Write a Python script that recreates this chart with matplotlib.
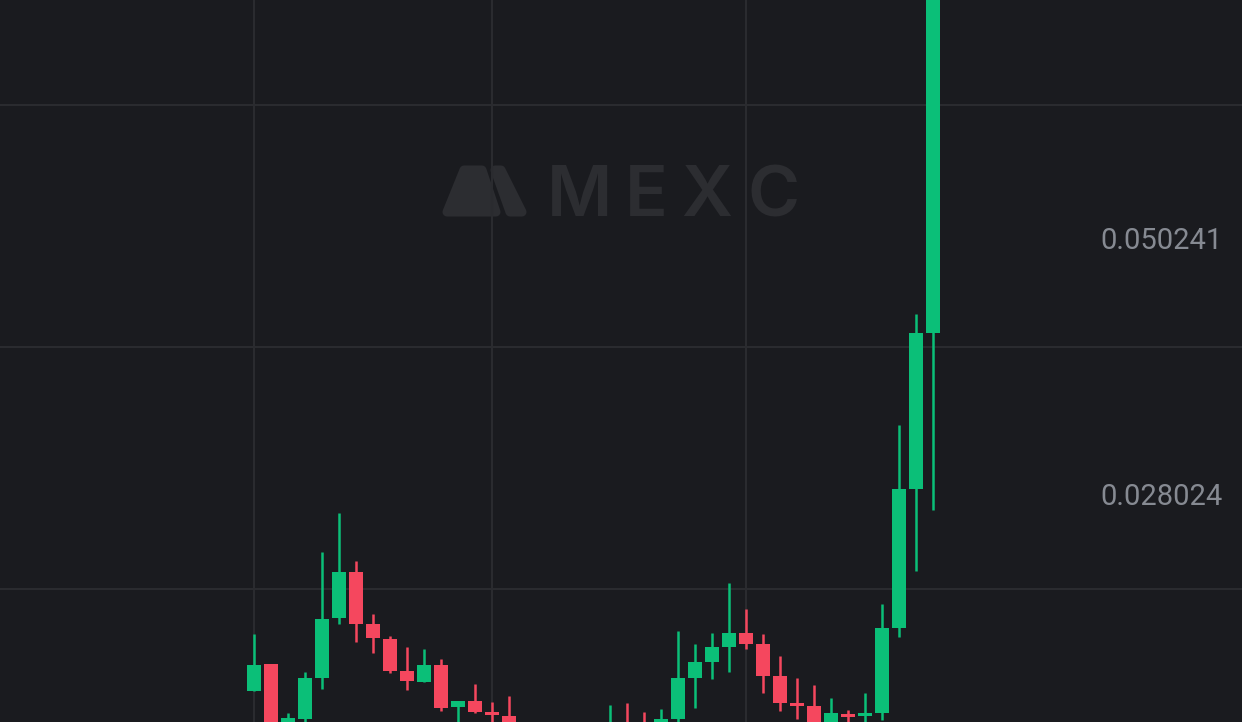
import matplotlib
matplotlib.use("Agg")
import matplotlib.pyplot as plt
import matplotlib.transforms as mtransforms
from matplotlib.patches import Polygon

# ---- data (prices) ----
open_ = [0.011209, 0.013549, 0.0080, 0.008782, 0.012336, 0.017537, 0.021524, 0.017017,
         0.015716, 0.012943, 0.011989, 0.013463, 0.009822, 0.010342, 0.009389, 0.009042,
         0.0080, 0.0077, 0.0079, 0.0076, 0.0078,
         0.0079, 0.0083, 0.0082, 0.0080, 0.008782, 0.012336, 0.013723, 0.015023, 0.016237,
         0.015283, 0.012509, 0.010169, 0.009909, 0.0081, 0.009215, 0.009042, 0.009259,
         0.016670, 0.028718, 0.042241]
high = [0.016150, 0.013549, 0.009302, 0.012856, 0.023258, 0.026638, 0.022478, 0.017883,
        0.015977, 0.015023, 0.014850, 0.013983, 0.010342, 0.011816, 0.010256, 0.010776,
        0.0083, 0.0082, 0.0081, 0.0083, 0.0084,
        0.009996, 0.010169, 0.009389, 0.009649, 0.016410, 0.015283, 0.016237, 0.020571, 0.018317,
        0.016150, 0.014243, 0.012336, 0.011729, 0.010602, 0.009562, 0.011036, 0.018750,
        0.034266, 0.043887, 0.0760]
low = [0.011209, 0.0075, 0.0076, 0.0080, 0.011382, 0.017017, 0.015456, 0.014503,
       0.012769, 0.011296, 0.011989, 0.009476, 0.0080, 0.009302, 0.0082, 0.0076,
       0.0074, 0.0073, 0.0072, 0.0073, 0.0075,
       0.0076, 0.0077, 0.0075, 0.0077, 0.0082, 0.009736, 0.012249, 0.012856, 0.014850,
       0.011036, 0.009476, 0.008782, 0.0078, 0.0078, 0.0080, 0.0083, 0.008695,
       0.015933, 0.021645, 0.026924]
close = [0.013463, 0.0080, 0.008869, 0.012336, 0.017450, 0.021524, 0.017017, 0.015803,
         0.012943, 0.012076, 0.013463, 0.009736, 0.010342, 0.009389, 0.009129, 0.0080,
         0.0077, 0.0079, 0.0076, 0.0078, 0.0080,
         0.0082, 0.0080, 0.0079, 0.008782, 0.012336, 0.013723, 0.015023, 0.016237, 0.015283,
         0.012509, 0.010169, 0.009909, 0.0081, 0.009302, 0.008955, 0.009302, 0.016670,
         0.028718, 0.042241, 0.0745]

price_labels = ["0.050241", "0.028024"]
price_label_values = [0.050241, 0.028024]
grid_prices = [0.062004, 0.041027, 0.020050]
grid_candles = [0, 14, 29]

# ---- style ----
BG = "#1a1b1f"
GRID = "#2a2b2f"
UP = "#0bbf78"
DOWN = "#f5475e"
WM = "#2c2d31"
LABEL = "#868a92"

W, H = 1242, 722
fig = plt.figure(figsize=(W / 100, H / 100), dpi=100, facecolor=BG)
ax = fig.add_axes([0, 0, 1, 1])
ax.set_facecolor(BG)
for s in ax.spines.values():
    s.set_visible(False)
ax.set_xticks([])
ax.set_yticks([])

step = 16.975
ax.set_xlim(-254 / step, (W - 254) / step)
ax.set_ylim(0.008522, 0.071105)

# pixel transform (x right, y down) for watermark
pix = mtransforms.Affine2D().scale(1 / W, -1 / H).translate(0, 1) + fig.transFigure

# watermark icon
left_piece = [(447, 212), (464, 170), (482, 170), (496, 212)]
right_piece = [(495, 170), (501, 170), (522, 212), (510, 212)]
for pts in (left_piece, right_piece):
    ax.add_patch(Polygon(pts, closed=True, facecolor=WM, edgecolor=WM,
                         linewidth=6.5, joinstyle="round", transform=pix, zorder=0))
for ch, cx in zip("MEXC", [580, 646, 707, 774]):
    ax.text(cx, 191, ch, transform=pix, ha="center", va="center_baseline",
            fontsize=51, fontweight="semibold", family=["Inter", "DejaVu Sans"],
            color=WM, zorder=0)

# grid
for gp in grid_prices:
    ax.axhline(gp, color=GRID, linewidth=1.5, zorder=1)
for gc in grid_candles:
    ax.axvline(gc, color=GRID, linewidth=1.5, zorder=1)

# candles
xs = list(range(len(open_)))
colors = [UP if c >= o else DOWN for o, c in zip(open_, close)]
min_h = 0.00018
bottoms = [min(o, c) for o, c in zip(open_, close)]
heights = [max(abs(c - o), min_h) for o, c in zip(open_, close)]
ax.vlines(xs, low, high, colors=colors, linewidth=1.8, zorder=2)
ax.bar(xs, heights, bottom=bottoms, width=14 / step, color=colors, linewidth=0, zorder=3)

# price labels
blend = mtransforms.blended_transform_factory(pix, ax.transData)
for lab, val in zip(price_labels, price_label_values):
    ax.text(1223, val, lab, transform=blend,
            ha="right", va="center", fontsize=21, fontweight="normal",
            family=["Roboto", "DejaVu Sans"], color=LABEL, zorder=4)

fig.savefig("out.png", dpi=100, facecolor=BG)
